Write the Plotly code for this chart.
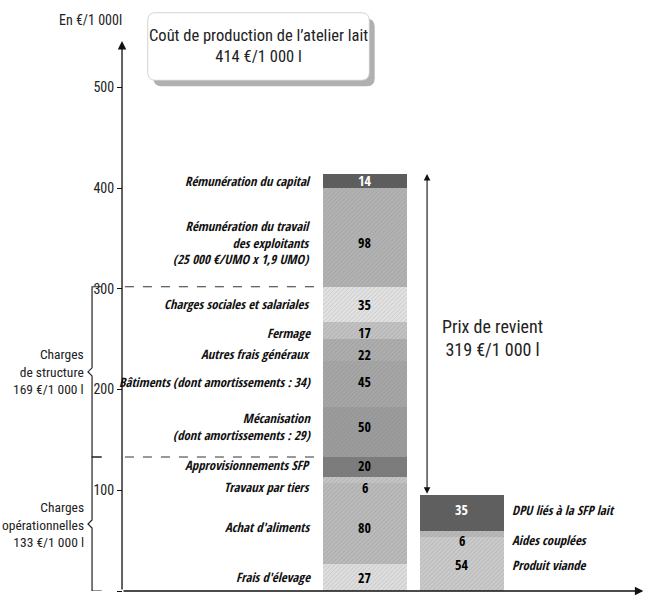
import plotly.graph_objects as go

# Coût de production de l'atelier lait, en €/1 000 l
cost_labels = [
    "Frais d'élevage",
    "Achat d'aliments",
    "Travaux par tiers",
    "Approvisionnements SFP",
    "Mécanisation<br>(dont amortissements : 29)",
    "Bâtiments (dont amortissements : 34)",
    "Autres frais généraux",
    "Fermage",
    "Charges sociales et salariales",
    "Rémunération du travail<br>des exploitants<br>(25 000 €/UMO x 1,9 UMO)",
    "Rémunération du capital",
]
cost_values = [27, 80, 6, 20, 50, 45, 22, 17, 35, 98, 14]
cost_colors = ["#dedede", "#bababa", "#c4c4c4", "#7c7c7c", "#9c9c9c", "#a6a6a6",
               "#adadad", "#c2c2c2", "#e2e2e2", "#b2b2b2", "#5c5c5c"]
cost_text_colors = ["black"] * 10 + ["white"]
# vertical nudge of each label around its segment centre (€/1 000 l)
cost_label_shift = [0, -3.5, -7, 2, 5, 2, -4, -2, 0, -5, 0]

# groups of charges (number of segments from the bottom)
n_operational = 4
n_structure = 5

# Produits de l'atelier lait
product_labels = ["Produit viande", "Aides couplées", "DPU liés à la SFP lait"]
product_values = [54, 6, 35]
product_colors = ["#cacaca", "#b9b9b9", "#5e5e5e"]
product_text_colors = ["black", "black", "white"]
product_label_shift = [-1, -6.5, 3]

y_ticks = [0, 100, 200, 300, 400, 500]

FONT = "Roboto Condensed, Roboto, sans-serif"
LFONT = "Open Sans Condensed, Roboto Condensed, sans-serif"
X_COST, X_PROD = 1, 2
BAR_W = 0.87
X_AXIS = -1.505
Y_MAX = 540


def py(v):
    """€/1 000 l value -> paper fraction (for items drawn above the plot)."""
    return v / Y_MAX


fig = go.Figure()


def add_stack(x, values, colors, names):
    for v, c, n in zip(values, colors, names):
        fig.add_trace(go.Bar(
            x=[x], y=[v], width=BAR_W, name=n.replace("<br>", " "),
            marker=dict(color=c, line=dict(width=0),
                        pattern=dict(shape="/", size=3, solidity=0.25,
                                     fgcolor="#707070", fgopacity=0.3)),
            hoverinfo="name+y", showlegend=False))


add_stack(X_COST, cost_values, cost_colors, cost_labels)
add_stack(X_PROD, product_values, product_colors, product_labels)

ann = []
shapes = []


def centres(values):
    out, base = [], 0
    for v in values:
        out.append(base + v / 2)
        base += v
    return out


# cost bar: value inside, label on the left
for lab, v, yc, dy, tc in zip(cost_labels, cost_values, centres(cost_values),
                              cost_label_shift, cost_text_colors):
    ann.append(dict(x=X_COST, y=yc + dy, text=str(v), showarrow=False,
                    font=dict(family=LFONT, size=14, color=tc)))
    ann.append(dict(x=X_COST - BAR_W / 2 - 0.1, y=yc + dy, text=f"<i>{lab}</i>",
                    showarrow=False, xanchor="right", align="right",
                    font=dict(family=LFONT, size=12.8, color="#111")))

# product bar: value inside, label on the right
for lab, v, yc, dy, tc in zip(product_labels, product_values, centres(product_values),
                              product_label_shift, product_text_colors):
    ann.append(dict(x=X_PROD, y=yc + dy, text=str(v), showarrow=False,
                    font=dict(family=LFONT, size=14, color=tc)))
    ann.append(dict(x=X_PROD + BAR_W / 2 + 0.06, y=yc + dy, text=f"<i>{lab}</i>",
                    showarrow=False, xanchor="left", align="left",
                    font=dict(family=LFONT, size=12.8, color="#111")))

total_cost = sum(cost_values)
total_prod = sum(product_values)
op_total = sum(cost_values[:n_operational])
struct_total = sum(cost_values[n_operational:n_operational + n_structure])
struct_top = op_total + struct_total

# dashed guides at the group boundaries
for yv in (op_total, struct_top):
    shapes.append(dict(type="line", x0=X_AXIS + 0.03, x1=X_COST - BAR_W / 2,
                       y0=yv, y1=yv, line=dict(color="#333", width=1, dash="dash")))

# braces for the two groups of charges
BX, TIP, TICK = -1.814, -1.856, -1.715


def brace(y0, y1):
    m = (y0 + y1) / 2
    return (f"M {TICK} {y1} L {BX} {y1} L {BX} {m + 4} L {TIP} {m} "
            f"L {BX} {m - 4} L {BX} {y0} L {TICK} {y0}")


shapes.append(dict(type="path", path=brace(op_total, struct_top),
                   line=dict(color="#222", width=1.2)))
shapes.append(dict(type="path", path=brace(0, op_total),
                   line=dict(color="#222", width=1.2)))

for txt, m in ((f"Charges<br>de structure<br>{struct_total} €/1 000 l",
                (op_total + struct_top) / 2),
               (f"Charges<br>opérationnelles<br>{op_total} €/1 000 l", op_total / 2)):
    ann.append(dict(x=-1.885, y=m, text=txt, showarrow=False, xanchor="right",
                    align="right", borderpad=0,
                    font=dict(family=FONT, size=13.5, color="#222")))

# axes drawn as arrows
ann.append(dict(x=X_AXIS, y=546, ax=X_AXIS, ay=0, xref="x", yref="y",
                axref="x", ayref="y", text="", showarrow=True, arrowhead=2,
                arrowsize=1.3, arrowwidth=1.3, arrowcolor="#111"))
ann.append(dict(x=3.87, y=0, ax=X_AXIS, ay=0, xref="x", yref="y",
                axref="x", ayref="y", text="", showarrow=True, arrowhead=2,
                arrowsize=1.3, arrowwidth=1.3, arrowcolor="#111"))

# prix de revient: double arrow between the two bar tops
X_PR = 1.64
ann.append(dict(x=X_PR, y=total_cost, ax=X_PR, ay=total_prod, xref="x", yref="y",
                axref="x", ayref="y", text="", showarrow=True, arrowhead=2,
                startarrowhead=2, arrowside="end+start", arrowsize=1.2,
                startarrowsize=1.2, arrowwidth=1.1, arrowcolor="#111"))
ann.append(dict(x=1.77, y=(total_cost + total_prod) / 2 - 3.5,
                text=f"Prix de revient<br>{total_cost - total_prod} €/1 000 l",
                showarrow=False, xanchor="left", align="center",
                font=dict(family=FONT, size=18, color="#222")))


# title box with a soft shadow
def rbox(x0, x1, y0, y1, rx, ry):
    y0, y1, ry = py(y0), py(y1), py(ry)
    return (f"M {x0 + rx} {y0} L {x1 - rx} {y0} Q {x1} {y0} {x1} {y0 + ry} "
            f"L {x1} {y1 - ry} Q {x1} {y1} {x1 - rx} {y1} L {x0 + rx} {y1} "
            f"Q {x0} {y1} {x0} {y1 - ry} L {x0} {y0 + ry} Q {x0} {y0} {x0 + rx} {y0} Z")


shapes.append(dict(type="path", path=rbox(-1.18, 1.10, 501, 568, 0.08, 8),
                   xref="x", yref="paper",
                   fillcolor="#b0b0b0", line=dict(width=0)))
shapes.append(dict(type="path", path=rbox(-1.24, 1.045, 507, 574, 0.08, 8),
                   xref="x", yref="paper",
                   fillcolor="white", line=dict(color="#c8c8c8", width=0.8)))
ann.append(dict(x=-0.095, y=py(541), yref="paper", yanchor="middle",
                text=f"Coût de production de l’atelier lait<br>{total_cost} €/1 000 l",
                showarrow=False, align="center",
                font=dict(family=FONT, size=16.5, color="#222")))

ann.append(dict(x=-1.83, y=py(567), yref="paper", yanchor="middle",
                text="En €/1 000l", showarrow=False,
                font=dict(family=FONT, size=14, color="#222")))

fig.update_layout(
    width=645, height=597,
    margin=dict(l=0, r=0, t=47, b=6),
    paper_bgcolor="white", plot_bgcolor="white",
    barmode="stack", bargap=0,
    showlegend=False,
    xaxis=dict(range=[-2.763, 3.887], visible=False, fixedrange=True),
    yaxis=dict(range=[0, Y_MAX], anchor="free", position=122 / 645,
               showline=False, showgrid=False, zeroline=False,
               tickvals=y_ticks, ticks="outside", ticklen=5, tickwidth=1.2,
               tickcolor="#111",
               tickfont=dict(family=FONT, size=14, color="#222")),
    annotations=ann,
    shapes=shapes,
)

fig.write_html("out.html")
